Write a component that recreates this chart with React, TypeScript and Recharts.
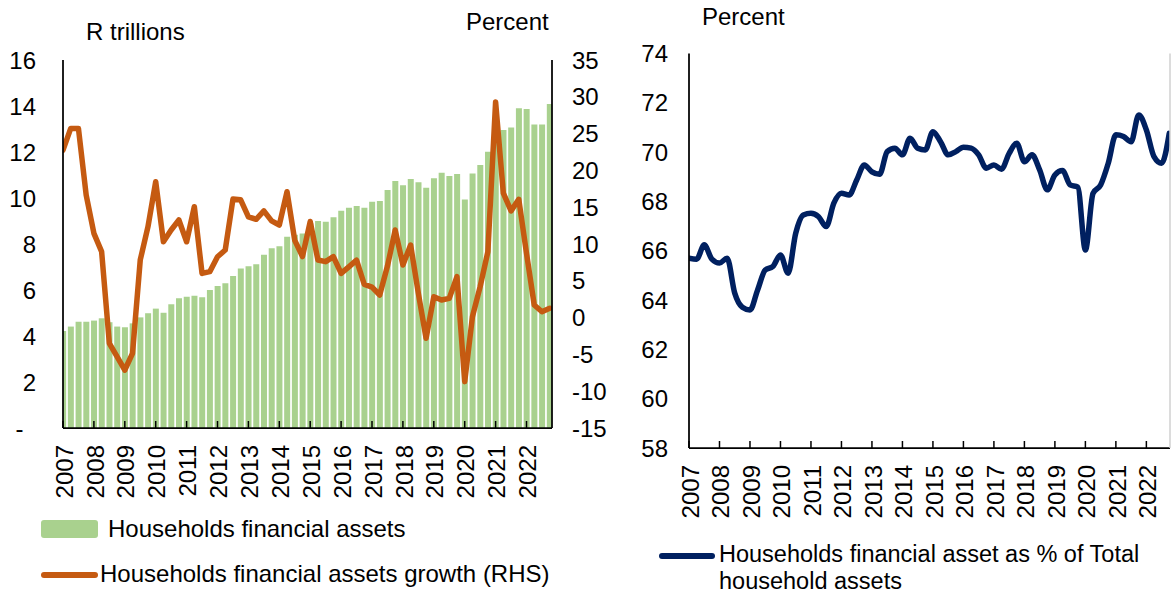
import React from 'react';
import { ComposedChart, LineChart, Bar, Line, XAxis, YAxis } from 'recharts';

const FONT = '"Liberation Sans", Arial, Helvetica, sans-serif';

const years = ['2007', '2008', '2009', '2010', '2011', '2012', '2013', '2014', '2015', '2016', '2017', '2018', '2019', '2020', '2021', '2022'];
const quarters = years.flatMap((y) => ['Q1', 'Q2', 'Q3', 'Q4'].map((q) => y + q));

// R trillions
const householdFinancialAssets = [
  4.22, 4.41, 4.62, 4.62, 4.67, 4.77, 4.6, 4.41,
  4.38, 4.55, 4.81, 4.99, 5.19, 5.01, 5.38, 5.64,
  5.71, 5.75, 5.68, 6.0, 6.17, 6.29, 6.61, 6.94,
  7.03, 7.12, 7.53, 7.81, 7.9, 8.32, 8.4, 8.46,
  8.9, 9.0, 8.97, 9.16, 9.45, 9.58, 9.65, 9.58,
  9.84, 9.87, 10.35, 10.74, 10.55, 10.83, 10.68, 10.45,
  10.86, 11.1, 10.96, 11.04, 9.94, 11.07, 11.43, 12.01,
  12.5, 12.96, 13.07, 13.9, 13.87, 13.2, 13.2, 14.09,
];

// Percent (RHS)
const financialAssetsGrowth = [
  22.76, 25.7, 25.7, 16.66, 11.45, 8.96, -3.5, -5.3,
  -7.12, -4.85, 7.83, 12.35, 18.47, 10.3, 11.9, 13.26,
  10.3, 15.07, 6.0, 6.24, 8.27, 9.18, 16.1, 16.0,
  13.7, 13.36, 14.5, 13.15, 12.58, 17.1, 10.5, 8.3,
  13.05, 7.83, 7.6, 8.28, 6.0, 6.9, 7.8, 4.5,
  4.15, 3.07, 7.0, 11.9, 7.15, 9.86, 3.3, -2.8,
  2.84, 2.39, 2.62, 5.56, -8.7, 0.12, 4.2, 8.96,
  29.3, 16.9, 14.5, 16.07, 8.74, 1.71, 0.8, 1.26,
];

// Percent of total household assets
const financialShareOfTotal = [
  65.7, 65.66, 66.24, 65.66, 65.5, 65.7, 64.28, 63.71,
  63.6, 64.41, 65.22, 65.36, 65.83, 65.09, 66.71, 67.45,
  67.52, 67.38, 66.98, 67.93, 68.33, 68.26, 68.87, 69.48,
  69.2, 69.1, 70.02, 70.16, 69.89, 70.56, 70.16, 70.09,
  70.83, 70.42, 69.89, 70.02, 70.2, 70.16, 69.89, 69.35,
  69.48, 69.31, 69.95, 70.36, 69.61, 69.89, 69.28, 68.47,
  69.07, 69.25, 68.67, 68.58, 66.03, 68.33, 68.67, 69.55,
  70.7, 70.63, 70.42, 71.51, 70.9, 69.82, 69.55, 70.76,
];

const assetTicks = [0, 2, 4, 6, 8, 10, 12, 14, 16];
const growthTicks = [-15, -10, -5, 0, 5, 10, 15, 20, 25, 30, 35];
const shareTicks = [58, 60, 62, 64, 66, 68, 70, 72, 74];
const yearTicks = years.map((_, j) => j * 4);

const leftData = quarters.map((q, i) => ({
  i,
  q,
  assets: householdFinancialAssets[i],
  growth: financialAssetsGrowth[i],
}));
const rightData = quarters.map((q, i) => ({ i, q, share: financialShareOfTotal[i] }));

const GREEN = '#A9D18E';
const ORANGE = '#C55A11';
const NAVY = '#002060';
const AXIS = { stroke: '#000', strokeWidth: 1.75 };
const FS = 24;

const YearTick = (props: any) => {
  const { x, y, payload } = props;
  const label = years[Math.round(payload.value / 4)];
  return (
    <g>
      <line x1={x} x2={x} y1={y} y2={y - 7} stroke="#000" strokeWidth={1.5} />
      <text
        x={x + 1}
        y={y + 17}
        transform={`rotate(-90, ${x + 1}, ${y + 17})`}
        textAnchor="end"
        dy="0.36em"
        fontSize={FS}
        fontFamily={FONT}
        fill="#000"
      >
        {label}
      </text>
    </g>
  );
};

const LeftTick = (props: any) => {
  const { x, y, payload } = props;
  const zero = payload.value === 0;
  return (
    <text x={zero ? x - 12.5 : x} y={y} dy="0.355em" textAnchor="end" fontSize={FS} fontFamily={FONT} fill="#000">
      {zero ? '-' : String(payload.value)}
    </text>
  );
};

const StartTick = (props: any) => {
  const { x, y, payload } = props;
  return (
    <text x={x} y={y} dy="0.355em" textAnchor="start" fontSize={FS} fontFamily={FONT} fill="#000">
      {String(payload.value)}
    </text>
  );
};

const EndTick = (props: any) => {
  const { x, y, payload } = props;
  return (
    <text x={x} y={y} dy="0.355em" textAnchor="end" fontSize={FS} fontFamily={FONT} fill="#000">
      {String(payload.value)}
    </text>
  );
};

// Places a single-line text so that its cap-height centre sits at centerY.
const textStyle = (left: number, centerY: number, lh = 24, fs = FS): React.CSSProperties => {
  const baselineFromTop = (lh - 1.117 * fs) / 2 + 0.905 * fs;
  const centerFromTop = baselineFromTop - 0.358 * fs;
  return {
    position: 'absolute',
    left,
    top: centerY - centerFromTop,
    fontFamily: FONT,
    fontSize: fs,
    lineHeight: `${lh}px`,
    color: '#000',
    whiteSpace: 'nowrap',
  };
};

export default function App() {
  return (
    <div style={{ position: 'absolute', left: 0, top: 0, width: 1171, height: 594, background: '#fff', overflow: 'hidden' }}>
      {/* Left chart */}
      <div style={{ position: 'absolute', left: 0, top: 0 }}>
        <ComposedChart width={620} height={594} data={leftData} margin={{ top: 60, right: 0, bottom: 0, left: 0 }}>
          <XAxis
            xAxisId="b"
            dataKey="i"
            type="number"
            domain={[0, 63.3]}
            allowDataOverflow
            ticks={yearTicks}
            interval={0}
            tick={<YearTick />}
            tickLine={false}
            tickSize={0}
            tickMargin={0}
            axisLine={AXIS}
            height={166}
          />
          <XAxis xAxisId="top" orientation="top" type="number" domain={[0, 1]} allowDataOverflow tick={false} tickLine={false} height={0} axisLine={AXIS} />
          <YAxis
            yAxisId="left"
            type="number"
            domain={[0, 16]}
            ticks={assetTicks}
            interval={0}
            allowDataOverflow
            width={63}
            tickLine={false}
            tickSize={0}
            tickMargin={27}
            tick={<LeftTick />}
            axisLine={AXIS}
          />
          <YAxis
            yAxisId="right"
            orientation="right"
            type="number"
            domain={[-15, 35]}
            ticks={growthTicks}
            interval={0}
            allowDataOverflow
            width={68}
            tickLine={false}
            tickSize={0}
            tickMargin={20}
            tick={<StartTick />}
            axisLine={AXIS}
          />
          <Bar xAxisId="b" yAxisId="left" dataKey="assets" fill={GREEN} barSize={6} isAnimationActive={false} />
          <Line
            xAxisId="b"
            yAxisId="right"
            type="linear"
            dataKey="growth"
            stroke={ORANGE}
            strokeWidth={5.5}
            strokeLinejoin="round"
            strokeLinecap="round"
            dot={false}
            activeDot={false}
            isAnimationActive={false}
          />
        </ComposedChart>
      </div>

      {/* Right chart */}
      <div style={{ position: 'absolute', left: 620, top: 0 }}>
        <LineChart width={551} height={594} data={rightData} margin={{ top: 53.5, right: 0, bottom: 0, left: 0 }}>
          <XAxis
            xAxisId="b"
            dataKey="i"
            type="number"
            domain={[0, 63.1]}
            allowDataOverflow
            ticks={yearTicks}
            interval={0}
            tick={<YearTick />}
            tickLine={false}
            tickSize={0}
            tickMargin={0}
            axisLine={AXIS}
            height={146}
          />
          <XAxis xAxisId="top" orientation="top" type="number" domain={[0, 1]} allowDataOverflow tick={false} tickLine={false} height={0} axisLine={AXIS} />
          <YAxis
            yAxisId="s"
            type="number"
            domain={[58, 74]}
            ticks={shareTicks}
            interval={0}
            allowDataOverflow
            width={69}
            tickLine={false}
            tickSize={0}
            tickMargin={21}
            tick={<EndTick />}
            axisLine={AXIS}
          />
          <YAxis
            yAxisId="rb"
            orientation="right"
            type="number"
            domain={[0, 1]}
            allowDataOverflow
            width={1}
            tick={false}
            tickLine={false}
            axisLine={{ stroke: '#d0d0d0', strokeWidth: 1.5 }}
          />
          <Line
            xAxisId="b"
            yAxisId="s"
            type="monotone"
            dataKey="share"
            stroke={NAVY}
            strokeWidth={5.5}
            strokeLinejoin="round"
            strokeLinecap="round"
            dot={false}
            activeDot={false}
            isAnimationActive={false}
          />
        </LineChart>
      </div>

      {/* Axis titles */}
      <div style={textStyle(86, 32)}>R trillions</div>
      <div style={textStyle(466, 22)}>Percent</div>
      <div style={textStyle(702, 17)}>Percent</div>

      {/* Left legend */}
      <div style={{ position: 'absolute', left: 41, top: 520, width: 57, height: 18, background: GREEN, borderRadius: 3 }} />
      <div style={textStyle(108, 528.5)}>Households financial assets</div>
      <div style={{ position: 'absolute', left: 41, top: 572, width: 57, height: 6, background: ORANGE, borderRadius: 3 }} />
      <div style={textStyle(100, 574, 20)}>Households financial assets growth (RHS)</div>

      {/* Right legend */}
      <div style={{ position: 'absolute', left: 659, top: 553, width: 56, height: 6, background: NAVY, borderRadius: 3 }} />
      <div style={textStyle(719, 554, 20, 23.5)}>Households financial asset as % of Total</div>
      <div style={textStyle(719, 580.4, 18, 23.5)}>household assets</div>
    </div>
  );
}
